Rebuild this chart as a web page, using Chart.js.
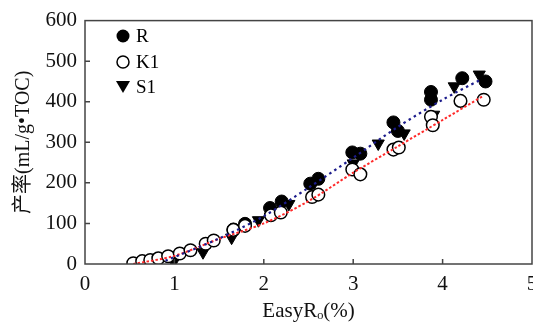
<!DOCTYPE html>
<html><head><meta charset="utf-8">
<script src="https://cdn.jsdelivr.net/npm/chart.js@4/dist/chart.umd.min.js"></script>
<style>html,body{margin:0;padding:0;background:#fff}canvas{display:block}</style>
</head><body>
<canvas id="c" width="533" height="324"></canvas>
<script>
// Series R (filled circles)
const rX = [1.66, 1.79, 2.07, 2.20, 2.52, 2.61, 2.99, 3.08, 3.45, 3.50, 3.87, 3.87, 4.22, 4.48];
const rY = [85, 99, 138, 154, 198, 210, 275, 272, 349, 328, 424, 405, 458, 450];
// Series K1 (open circles)
const k1X = [0.54, 0.64, 0.73, 0.82, 0.93, 1.06, 1.18, 1.35, 1.44, 1.66, 1.79, 2.08, 2.19, 2.54, 2.61, 2.99, 3.08, 3.45, 3.51, 3.87, 3.89, 4.20, 4.46];
const k1Y = [2, 7, 10, 14, 19, 26, 34, 50, 58, 84, 94, 120, 127, 165, 171, 233, 221, 282, 287, 363, 342, 402, 405];
// Series S1 (down triangles)
const s1X = [0.99, 1.32, 1.64, 1.94, 2.28, 3.00, 3.28, 3.57, 3.90, 4.13, 4.41];
const s1Y = [5, 29, 65, 108, 148, 248, 297, 322, 368, 438, 467];
// Fitted trend (R / S1) – blue dotted
const fitBX = [0.9, 1.5, 2.0, 2.5, 3.0, 3.5, 4.0, 4.43];
const fitBY = [8, 63, 118, 188, 262, 338, 405, 455];
// Fitted trend (K1) – red dotted
const fitRX = [0.54, 1.0, 1.5, 2.0, 2.5, 3.0, 3.5, 4.0, 4.46];
const fitRY = [0, 20, 62, 100, 155, 225, 290, 355, 415];
// Axis ticks
const xTicks = [0, 1, 2, 3, 4, 5];
const yTicks = [0, 100, 200, 300, 400, 500, 600];
const legendLabels = ['R', 'K1', 'S1'];
const xTitle = 'EasyRₒ(%)';
const yTitle = '产率(mL/g•TOC)';

const pts = (xs, ys) => xs.map((x, i) => ({x: x, y: ys[i]}));
const serif = '"Liberation Serif", "Times New Roman", "Noto Sans CJK SC", serif';

const frameTicks = {
  id: 'frameTicks',
  afterDatasetsDraw(chart) {
    const {ctx, chartArea: a, scales: {x, y}} = chart;
    ctx.save();
    ctx.strokeStyle = '#444';
    ctx.lineWidth = 1.5;
    ctx.strokeRect(a.left, a.top, a.right - a.left, a.bottom - a.top);
    ctx.beginPath();
    xTicks.forEach(v => {
      const px = x.getPixelForValue(v);
      if (v > 0 && v < 5) { ctx.moveTo(px, a.bottom); ctx.lineTo(px, a.bottom - 5); }
    });
    yTicks.forEach(v => {
      const py = y.getPixelForValue(v);
      if (v > 0 && v < 600) { ctx.moveTo(a.left, py); ctx.lineTo(a.left + 5, py); }
    });
    ctx.stroke();
    // legend
    const lx = 123, ly = [36, 62, 87];
    ctx.fillStyle = '#000';
    ctx.strokeStyle = '#000';
    ctx.lineWidth = 1.5;
    ctx.beginPath(); ctx.arc(lx, ly[0], 6.5, 0, Math.PI * 2); ctx.fill();
    ctx.beginPath(); ctx.arc(lx, ly[1], 6, 0, Math.PI * 2); ctx.stroke();
    ctx.beginPath(); ctx.moveTo(lx - 7, ly[2] - 6); ctx.lineTo(lx + 7, ly[2] - 6); ctx.lineTo(lx, ly[2] + 6); ctx.closePath(); ctx.fill();
    ctx.font = '19px ' + serif;
    ctx.textBaseline = 'middle';
    ctx.textAlign = 'left';
    legendLabels.forEach((t, i) => ctx.fillText(t, 136, ly[i] + 1));
    ctx.restore();
  }
};

new Chart(document.getElementById('c'), {
  type: 'scatter',
  data: {
    datasets: [
      {label: 'fitB', type: 'line', data: pts(fitBX, fitBY), borderColor: '#1c1c8c', borderWidth: 2.2, borderDash: [2.5, 3.5], pointRadius: 0, fill: false, tension: 0.3, order: 0},
      {label: 'fitR', type: 'line', data: pts(fitRX, fitRY), borderColor: '#ff2a2a', borderWidth: 2, borderDash: [2.5, 2], pointRadius: 0, fill: false, tension: 0.3, order: 0},
      {label: 'K1', data: pts(k1X, k1Y), pointStyle: 'circle', pointRadius: 6.3, backgroundColor: '#fff', borderColor: '#000', borderWidth: 1.5, order: 1},
      {label: 'S1', data: pts(s1X, s1Y), pointStyle: 'triangle', pointRotation: 180, pointRadius: 7, backgroundColor: '#000', borderColor: '#000', borderWidth: 1, order: 2},
      {label: 'R', data: pts(rX, rY), pointStyle: 'circle', pointRadius: 6.5, backgroundColor: '#000', borderColor: '#000', borderWidth: 1, order: 3}
    ]
  },
  options: {
    responsive: false,
    animation: false,
    events: [],
    layout: {autoPadding: false, padding: {top: 14, right: 1, left: 0, bottom: 0}},
    plugins: {legend: {display: false}, tooltip: {enabled: false}},
    scales: {
      x: {
        type: 'linear', min: 0, max: 5,
        afterBuildTicks: s => { s.ticks = xTicks.map(v => ({value: v})); },
        ticks: {font: {family: serif, size: 21}, color: '#111', padding: 8},
        grid: {display: false, drawTicks: false},
        border: {display: false},
        title: {display: true, text: xTitle, font: {family: serif, size: 21}, color: '#111', padding: {top: 0, bottom: 0}},
        afterFit: s => { s.height = 60; s.paddingLeft = 0; s.paddingRight = 0; }
      },
      y: {
        type: 'linear', min: 0, max: 600,
        afterBuildTicks: s => { s.ticks = yTicks.map(v => ({value: v})); },
        ticks: {font: {family: serif, size: 21}, color: '#111', padding: 8},
        grid: {display: false, drawTicks: false},
        border: {display: false},
        title: {display: true, text: yTitle, font: {family: serif, size: 20}, color: '#111', padding: {top: 12, bottom: 0}},
        afterFit: s => { s.width = 85; }
      }
    }
  },
  plugins: [frameTicks]
});
</script>
</body></html>
